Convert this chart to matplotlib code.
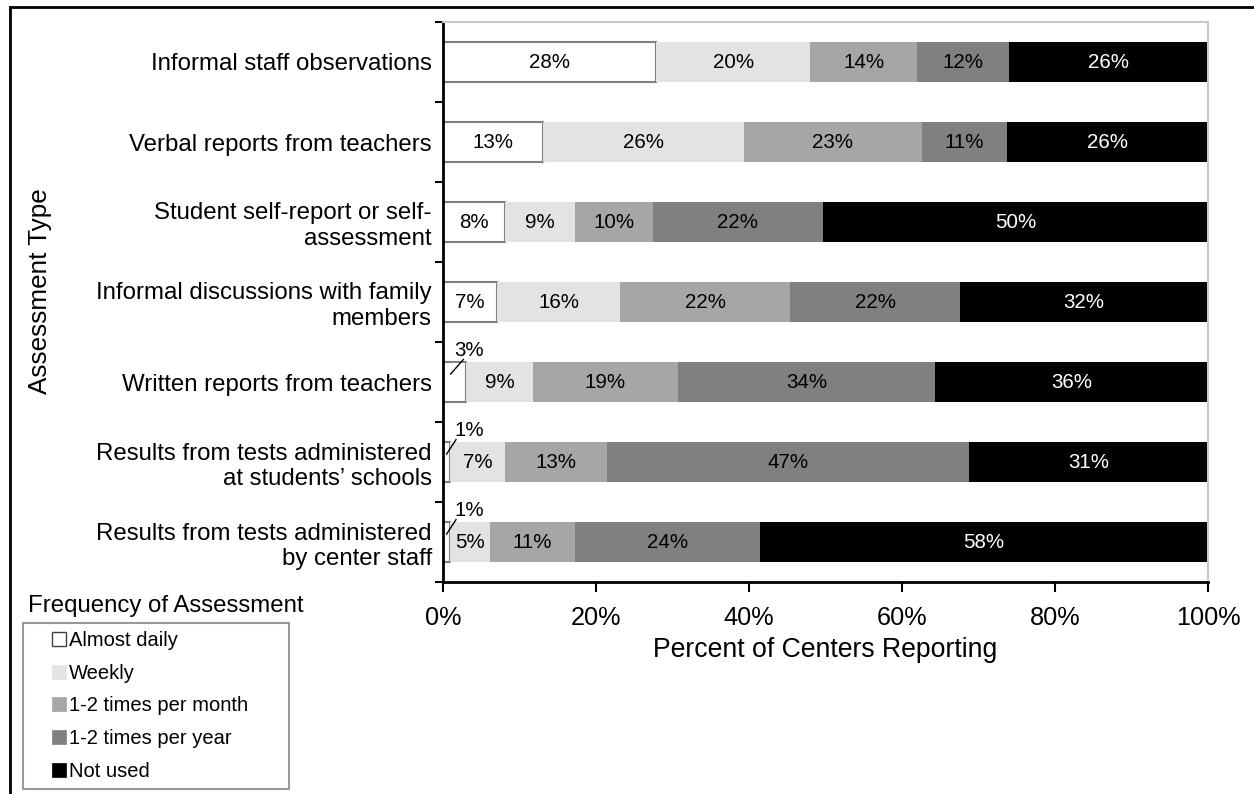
import matplotlib
matplotlib.use("Agg")
import matplotlib.pyplot as plt
from matplotlib.lines import Line2D
import numpy as np

plt.rcParams['font.family'] = ['Liberation Sans', 'DejaVu Sans']

categories = [
    "Informal staff observations",
    "Verbal reports from teachers",
    "Student self-report or self-\nassessment",
    "Informal discussions with family\nmembers",
    "Written reports from teachers",
    "Results from tests administered\nat students\u2019 schools",
    "Results from tests administered\nby center staff",
]
series_names = ["Almost daily", "Weekly", "1-2 times per month",
                "1-2 times per year", "Not used"]
almost_daily = [27.9, 13.1, 8.1, 7.0, 3.0, 0.9, 0.9]
weekly = [20.1, 26.2, 9.1, 16.2, 8.8, 7.2, 5.2]
per_month = [14.0, 23.3, 10.2, 22.2, 18.9, 13.3, 11.2]
per_year = [12.0, 11.1, 22.3, 22.2, 33.6, 47.3, 24.2]
not_used = [26.0, 26.3, 50.3, 32.4, 35.7, 31.3, 58.45]
x_ticks = [0, 20, 40, 60, 80, 100]
x_tick_labels = ["0%", "20%", "40%", "60%", "80%", "100%"]

series = [almost_daily, weekly, per_month, per_year, not_used]
fills = ["#ffffff", "#e3e3e3", "#a6a6a6", "#808080", "#000000"]
text_colors = ["black", "black", "black", "black", "white"]

W, H = 1254, 794
fig = plt.figure(figsize=(W / 100, H / 100), dpi=100)
ax = fig.add_axes([443 / W, 1 - 582 / H, (1208 - 443) / W, (582 - 22) / H])

y = np.arange(len(categories))
left = np.zeros(len(categories))
bar_h = 0.51
for k, vals in enumerate(series):
    vals = np.array(vals, dtype=float)
    if k == 0:
        ax.barh(y, vals, left=left, height=bar_h, color=fills[k],
                edgecolor="#808080", linewidth=1.5, zorder=2)
    else:
        ax.barh(y, vals, left=left, height=bar_h, color=fills[k],
                edgecolor="none", zorder=2)
    for i, v in enumerate(vals):
        label = f"{round(v):.0f}%"
        if v >= 4:
            ax.text(left[i] + v / 2, y[i], label, ha="center", va="center",
                    fontsize=14.8, color=text_colors[k], zorder=3)
        else:
            # narrow segment: label set above it with a leader line
            x0 = v * 0.25 + 0.25
            x1 = v * 0.45 + 1.3
            ax.plot([x0, x1], [y[i] - 0.10, y[i] - 0.28], color="black",
                    linewidth=1, zorder=3, clip_on=False)
            ax.text(1.5, y[i] - 0.40, label, ha="left", va="center",
                    fontsize=14.8, color="black", zorder=3)
    left += vals

ax.set_xlim(0, 100)
ax.set_ylim(len(categories) - 0.5, -0.5)

ax.set_xticks(x_ticks)
ax.set_xticklabels(x_tick_labels, fontsize=18.2)
ax.tick_params(axis="x", length=7, width=1.5, pad=10)

ax.set_yticks(y)
ax.set_yticklabels(categories, fontsize=17.3, ha="right")
ax.tick_params(axis="y", which="major", length=0, pad=8)
ax.set_yticks(np.arange(-0.5, len(categories)), minor=True)
ax.tick_params(axis="y", which="minor", length=6, width=1.5)

for side in ("left", "bottom"):
    ax.spines[side].set_color("black")
    ax.spines[side].set_linewidth(2)
for side in ("top", "right"):
    ax.spines[side].set_color("#c8c8c8")
    ax.spines[side].set_linewidth(1.5)

ax.set_xlabel("Percent of Centers Reporting", fontsize=19.2, labelpad=5)
fig.text(40 / W, 1 - 291 / H, "Assessment Type", rotation=90,
         ha="center", va="center", fontsize=18.8)

# legend with its title set above the box
fig.text(28 / W, 1 - 606 / H, "Frequency of Assessment", ha="left",
         va="center", fontsize=17.3)
handles = [Line2D([], [], linestyle="none", marker="s", markersize=9.4,
                  markerfacecolor=fills[0], markeredgecolor="#404040",
                  markeredgewidth=1)]
handles += [Line2D([], [], linestyle="none", marker="s", markersize=9.4,
                   markerfacecolor=c, markeredgecolor=c, markeredgewidth=0.5)
            for c in fills[1:]]
leg = fig.legend(handles, series_names, loc="upper left",
                 bbox_to_anchor=(23 / W, 1 - 623 / H - 0.01, 266 / W, 0.01),
                 mode="expand", fontsize=14.5, frameon=True, fancybox=False,
                 handlelength=2.75, handletextpad=-0.85, labelspacing=0.68,
                 borderpad=0.4, borderaxespad=0)
leg.get_frame().set_edgecolor("#808080")
leg.get_frame().set_linewidth(1.5)

# outer frame lines
fig.add_artist(Line2D([10 / W, 1], [1 - 7 / H, 1 - 7 / H], color="black",
                      linewidth=2, transform=fig.transFigure))
fig.add_artist(Line2D([10 / W, 10 / W], [0, 1 - 7 / H], color="black",
                      linewidth=2, transform=fig.transFigure))

fig.savefig("out.png", dpi=100)
